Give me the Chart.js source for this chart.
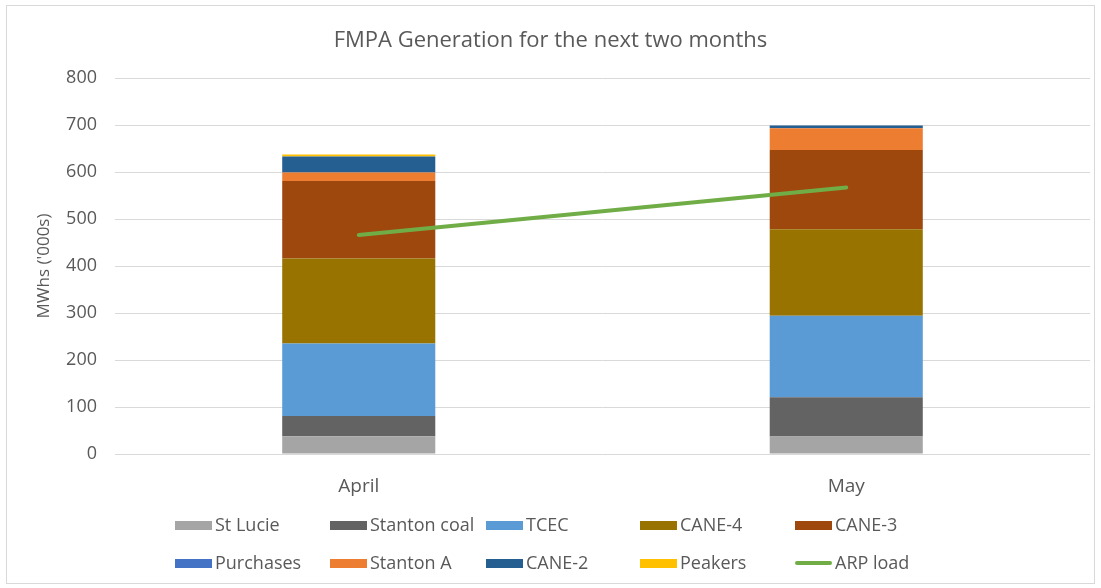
<!DOCTYPE html>
<html>
<head>
<meta charset="utf-8">
<script src="https://cdn.jsdelivr.net/npm/chart.js@4/dist/chart.umd.min.js"></script>
<style>
  html, body { margin: 0; padding: 0; background: #fff; }
  #wrap { position: relative; width: 1101px; height: 588px; overflow: hidden; }
  #frame { position: absolute; left: 6px; top: 5px; width: 1089px; height: 579px; border: 1px solid #d9d9d9; box-sizing: border-box; pointer-events: none; }
  #title { position: absolute; left: 0; width: 1101px; top: 23px; text-align: center; font-family: "Open Sans", sans-serif; font-size: 22px; color: #595959; }
  .leg { position: absolute; font-family: "Open Sans", sans-serif; font-size: 18px; color: #595959; white-space: nowrap; }
  .sw { position: absolute; }
  canvas { position: absolute; left: 0; top: 0; }
</style>
</head>
<body>
<div id="wrap">
  <canvas id="c" width="1101" height="588"></canvas>
  <div id="frame"></div>
  <div id="title"></div>
  <div id="legend"></div>
</div>
<script>
const categories = ["April", "May"];
const seriesNames = ["St Lucie", "Stanton coal", "TCEC", "CANE-4", "CANE-3", "Purchases", "Stanton A", "CANE-2", "Peakers"];
const stLucie     = [38, 37];
const stantonCoal = [43, 84];
const tcec        = [154, 173];
const cane4       = [181, 184];
const cane3       = [165, 169];
const purchases   = [0, 0];
const stantonA    = [18, 46];
const cane2       = [34, 6];
const peakers     = [4, 0];
const arpLoad     = [466, 567];
const yTicks      = [0, 100, 200, 300, 400, 500, 600, 700, 800];
const titleText   = "FMPA Generation for the next two months";
const yTitle      = "MWhs ('000s)";
const lineName    = "ARP load";

const colors = ["#A5A5A5", "#636363", "#5B9BD5", "#997300", "#9E480E", "#4472C4", "#ED7D31", "#255E91", "#FFC000"];
const lineColor = "#70AD47";
const barSeries = [stLucie, stantonCoal, tcec, cane4, cane3, purchases, stantonA, cane2, peakers];

document.getElementById('title').textContent = titleText;

const datasets = barSeries.map((d, i) => ({
  type: 'bar',
  label: seriesNames[i],
  data: d,
  backgroundColor: colors[i],
  borderWidth: 0,
  stack: 'gen',
  order: 1,
  categoryPercentage: 1,
  barPercentage: 0.314
}));
datasets.push({
  type: 'line',
  label: lineName,
  data: arpLoad,
  borderColor: lineColor,
  backgroundColor: lineColor,
  borderWidth: 4,
  pointRadius: 0,
  tension: 0,
  stack: 'load',
  order: 0,
  borderCapStyle: 'round'
});

new Chart(document.getElementById('c'), {
  data: { labels: categories, datasets },
  options: {
    responsive: false,
    animation: false,
    layout: { padding: { left: 0, top: 78, right: 11, bottom: 0 } },
    plugins: { legend: { display: false }, tooltip: { enabled: false }, title: { display: false } },
    scales: {
      x: {
        stacked: true,
        grid: { display: false },
        border: { display: false },
        ticks: { color: '#595959', font: { family: 'Open Sans', size: 19 }, padding: 13 },
        afterFit(s) { s.height = 134; }
      },
      y: {
        stacked: true,
        min: 0, max: 800,
        afterBuildTicks(s) { s.ticks = yTicks.map(v => ({ value: v })); },
        grid: { color: '#d9d9d9', lineWidth: 1, drawTicks: false },
        border: { display: false },
        ticks: { color: '#595959', font: { family: 'Open Sans', size: 18 }, padding: 18 },
        title: { display: true, text: yTitle, color: '#595959', font: { family: 'Open Sans', size: 17 }, padding: { top: 34, bottom: 0 } },
        afterFit(s) { s.width = 115; }
      }
    }
  }
});

// HTML legend
const legend = document.getElementById('legend');
const colX = [175, 330, 486, 640, 795];
const rowY = [525, 563];
const items = seriesNames.map((n, i) => ({ name: n, color: colors[i], line: false }));
items.push({ name: lineName, color: lineColor, line: true });
items.forEach((it, i) => {
  const r = Math.floor(i / 5), c = i % 5;
  const sw = document.createElement('div');
  sw.className = 'sw';
  sw.style.left = colX[c] + 'px';
  sw.style.width = '37px';
  if (it.line) { sw.style.top = (rowY[r] - 2) + 'px'; sw.style.height = '4px'; sw.style.borderRadius = '2px'; }
  else { sw.style.top = (rowY[r] - 4) + 'px'; sw.style.height = '9px'; }
  sw.style.background = it.color;
  legend.appendChild(sw);
  const t = document.createElement('div');
  t.className = 'leg';
  t.textContent = it.name;
  t.style.left = (colX[c] + 40) + 'px';
  t.style.top = (rowY[r] - 13) + 'px';
  legend.appendChild(t);
});
</script>
</body>
</html>
